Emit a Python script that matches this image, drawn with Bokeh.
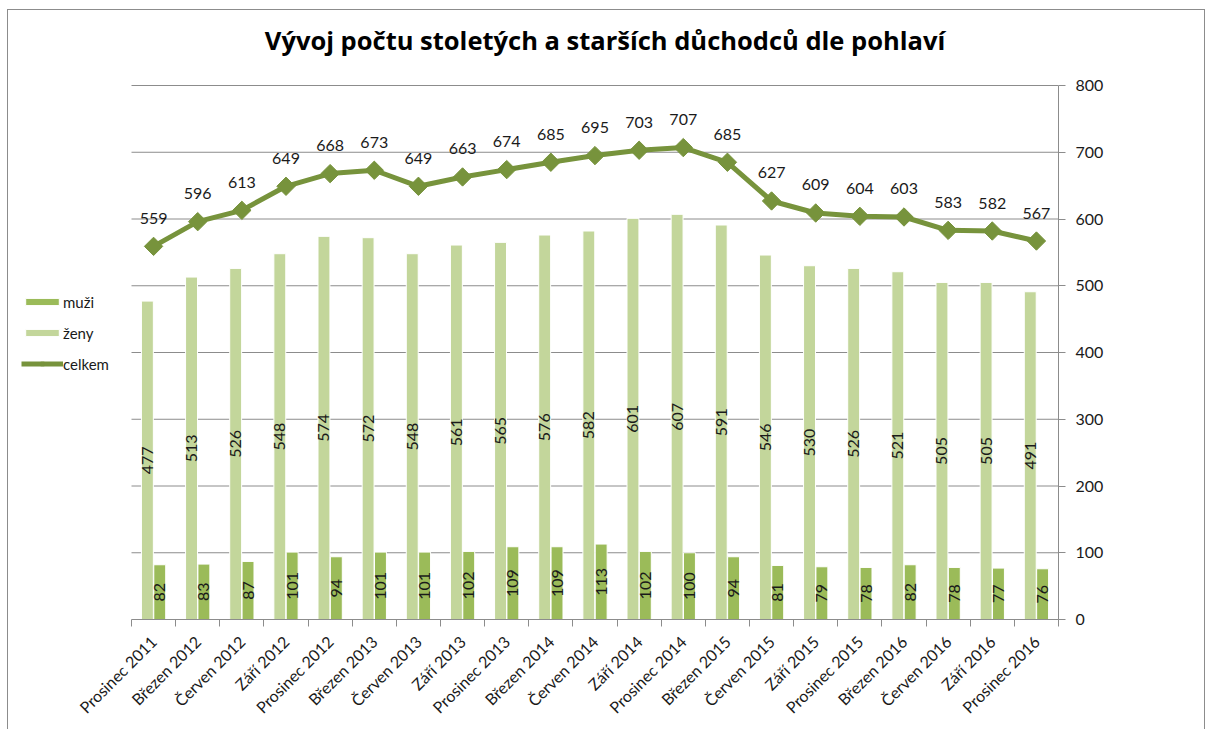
import math
from bokeh.plotting import figure
from bokeh.models import ColumnDataSource, FixedTicker, Legend, LegendItem, Range1d
from bokeh.transform import dodge
from bokeh.core.properties import value
from bokeh.embed import file_html
from bokeh.resources import INLINE

categories = ["Prosinec 2011", "Březen 2012", "Červen 2012", "Září 2012", "Prosinec 2012",
              "Březen 2013", "Červen 2013", "Září 2013", "Prosinec 2013", "Březen 2014",
              "Červen 2014", "Září 2014", "Prosinec 2014", "Březen 2015", "Červen 2015",
              "Září 2015", "Prosinec 2015", "Březen 2016", "Červen 2016", "Září 2016",
              "Prosinec 2016"]
muzi = [82, 83, 87, 101, 94, 101, 101, 102, 109, 109, 113, 102, 100, 94, 81, 79, 78, 82, 78, 77, 76]
zeny = [477, 513, 526, 548, 574, 572, 548, 561, 565, 576, 582, 601, 607, 591, 546, 530, 526, 521, 505, 505, 491]
celkem = [559, 596, 613, 649, 668, 673, 649, 663, 674, 685, 695, 703, 707, 685, 627, 609, 604, 603, 583, 582, 567]
y_ticks = [0, 100, 200, 300, 400, 500, 600, 700, 800]
title = "Vývoj počtu stoletých a starších důchodců dle pohlaví"

FONT = "Lato"
TXT = "#1a1a1a"
GRAY = "#8c8c8c"
C_MUZI = "#9BBB59"
C_ZENY = "#C3D69B"
C_LINE = "#77933C"

# layout (pixels)
W, H = 1196, 719
PLOT_L = 123          # left edge of the category area inside the frame
PLOT_W = 927          # width of the category area
PLOT_H = 534          # height of 0..800
BORDER_R = W - PLOT_L - PLOT_W
BORDER_B = 110
FRAME_H = H - BORDER_B

n = len(categories)
ymax = y_ticks[-1]
px_x = PLOT_W / n
px_y = PLOT_H / ymax
x_start = -PLOT_L / px_x
y_end = FRAME_H / px_y

xs = [i + 0.5 for i in range(n)]
src = ColumnDataSource(dict(
    x=xs, muzi=muzi, zeny=zeny, celkem=celkem,
    muzi_mid=[v / 2 for v in muzi], zeny_mid=[v / 2 for v in zeny],
    muzi_lbl=[str(v) for v in muzi], zeny_lbl=[str(v) for v in zeny],
    celkem_lbl=[str(v) for v in celkem],
))

p = figure(width=W, height=H, output_backend="svg", toolbar_location=None,
           x_range=Range1d(x_start, n), y_range=Range1d(0, y_end), y_axis_location="right",
           min_border_left=0, min_border_right=BORDER_R, min_border_top=0,
           min_border_bottom=BORDER_B)
p.outline_line_color = None
p.background_fill_color = "white"
p.border_fill_color = "white"
p.styles = {"margin": "10px 0px 0px 8px", "outline": "1.5px solid #8c8c8c"}

# axes
xa = p.xaxis[0]
xa.bounds = (0, n)
xa.ticker = FixedTicker(ticks=xs, minor_ticks=list(range(n + 1)))
xa.major_label_overrides = {x: c for x, c in zip(xs, categories)}
xa.major_label_orientation = math.pi / 4
xa.major_tick_line_color = None
xa.major_tick_out = 0
xa.major_tick_in = 0
xa.minor_tick_out = 7
xa.minor_tick_in = 0
xa.minor_tick_line_color = GRAY
xa.axis_line_color = GRAY
xa.major_label_text_font = FONT
xa.major_label_text_font_size = "16px"
xa.major_label_text_color = TXT
xa.major_label_standoff = 12

ya = p.yaxis[0]
ya.bounds = (0, ymax)
ya.ticker = FixedTicker(ticks=y_ticks)
ya.major_tick_out = 7
ya.major_tick_in = 0
ya.minor_tick_line_color = None
ya.major_tick_line_color = GRAY
ya.axis_line_color = GRAY
ya.major_label_text_font = FONT
ya.major_label_text_font_size = "16px"
ya.major_label_text_color = TXT
ya.major_label_standoff = 10

p.xgrid.grid_line_color = None
p.ygrid.grid_line_color = None

# horizontal gridlines over the category area only
gy = y_ticks[1:]
p.segment(x0=[0] * len(gy), x1=[n] * len(gy), y0=gy, y1=gy, line_color=GRAY, line_width=1)

r_z = p.vbar(x=dodge("x", -0.14), top="zeny", width=0.27, source=src,
             fill_color=C_ZENY, line_color="white", line_width=1)
r_m = p.vbar(x=dodge("x", 0.14), top="muzi", width=0.27, source=src,
             fill_color=C_MUZI, line_color="white", line_width=1)

r_l = p.line(x="x", y="celkem", source=src, line_width=5, line_color=C_LINE)
r_s = p.scatter(x="x", y="celkem", source=src, marker="square", angle=math.pi / 4, size=13,
                fill_color=C_LINE, line_color=C_LINE)

p.text(x="x", y="celkem", text="celkem_lbl", source=src, text_align="center",
       text_baseline="middle", y_offset=-28, text_font=value(FONT), text_font_size="16px",
       text_color=TXT)
p.text(x=dodge("x", -0.14), y="zeny_mid", text="zeny_lbl", source=src, angle=math.pi / 2,
       text_align="center", text_baseline="middle", text_font=value(FONT),
       text_font_size="16px", text_color=TXT)
p.text(x=dodge("x", 0.14), y="muzi_mid", text="muzi_lbl", source=src, angle=math.pi / 2,
       text_align="center", text_baseline="middle", text_font=value(FONT),
       text_font_size="16px", text_color=TXT)

# title
p.text(x=[n / 2], y=[y_end], text=[title], x_offset=10, y_offset=29,
       text_align="center", text_baseline="middle", text_font=value("Open Sans"),
       text_font_size="25.5px", text_font_style="bold", text_color="#000000")

legend = Legend(items=[LegendItem(label="muži", renderers=[r_m]),
                       LegendItem(label="ženy", renderers=[r_z]),
                       LegendItem(label="celkem", renderers=[r_l, r_s])],
                location=(13, 246), orientation="vertical",
                glyph_width=42, glyph_height=9, label_height=19, spacing=12,
                padding=0, margin=0, label_standoff=0,
                label_text_font=FONT, label_text_font_size="15px", label_text_color=TXT,
                border_line_color=None, background_fill_alpha=0)
p.add_layout(legend)

open("out.html", "w").write(file_html(p, INLINE))
